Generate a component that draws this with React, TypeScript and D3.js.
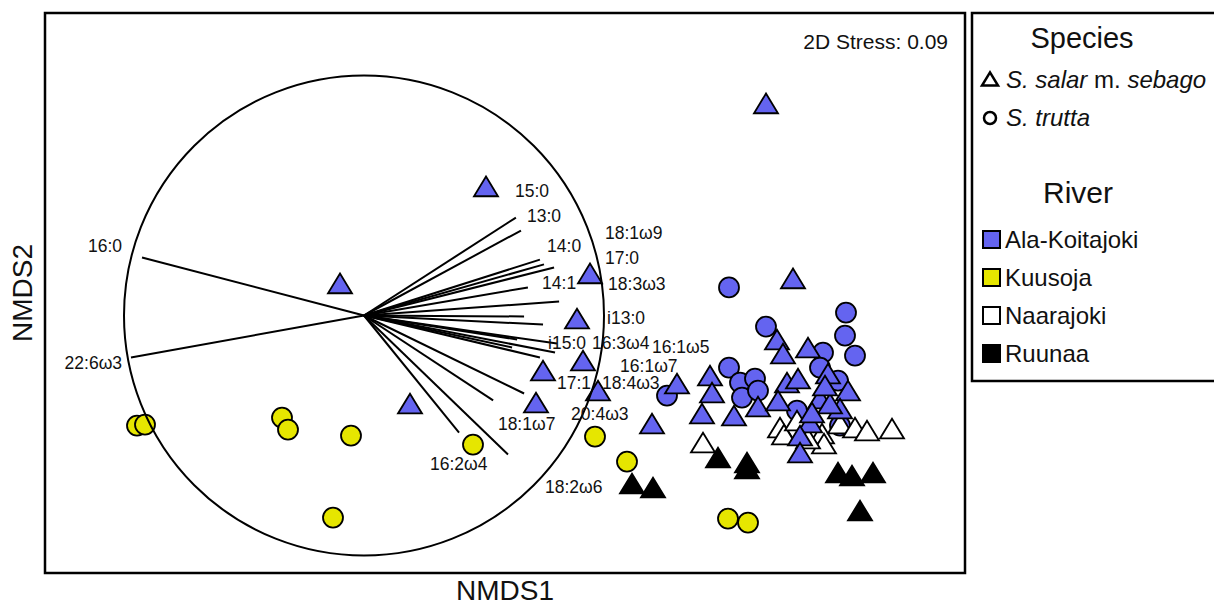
import * as d3 from 'd3';

const W = 1214;
const H = 606;

type Pt = [number, number];

// NMDS scores (NMDS1, NMDS2)
const alaTriangles: Pt[] = [
  [1.305, 0.948], [-0.095, 0.533], [-0.825, 0.048], [0.425, 0.098], [0.36, -0.128],
  [0.39, -0.338], [0.19, -0.388], [0.155, -0.548], [0.465, -0.488], [-0.475, -0.553],
  [0.735, -0.653], [0.86, -0.453], [1.44, 0.073], [1.025, -0.413], [1.035, -0.498],
  [0.985, -0.603], [1.145, -0.613], [1.265, -0.568], [1.36, -0.233], [1.39, -0.303],
  [1.515, -0.273], [1.41, -0.448], [1.465, -0.428], [1.615, -0.403], [1.715, -0.488],
  [1.675, -0.578], [1.365, -0.538], [1.575, -0.528], [1.625, -0.553], [1.525, -0.648],
  [1.475, -0.713], [1.475, -0.798], [1.535, -0.598], [1.6, -0.463],
];
const alaCircles: Pt[] = [
  [1.12, 0.028], [1.705, -0.098], [1.7, -0.213], [1.75, -0.313], [1.305, -0.168],
  [1.59, -0.298], [1.575, -0.373], [1.12, -0.373], [1.175, -0.448], [1.25, -0.428],
  [1.185, -0.523], [1.265, -0.488], [0.81, -0.513], [1.46, -0.588], [1.675, -0.663],
  [1.665, -0.438],
];
const naaraTriangles: Pt[] = [
  [0.99, -0.748], [1.375, -0.673], [1.395, -0.708], [1.46, -0.638], [1.585, -0.703],
  [1.595, -0.753], [1.675, -0.653], [1.75, -0.673], [1.81, -0.688], [1.935, -0.678],
  [1.515, -0.728],
];
const ruunaaTriangles: Pt[] = [
  [0.635, -0.953], [0.74, -0.973], [1.065, -0.823], [1.21, -0.848], [1.21, -0.878],
  [1.665, -0.898], [1.735, -0.913], [1.84, -0.898], [1.775, -1.088],
];
const kuusojaCircles: Pt[] = [
  [-1.84, -0.663], [-1.8, -0.658], [-1.115, -0.623], [-1.085, -0.683], [-0.77, -0.713],
  [-0.86, -1.123], [-0.16, -0.758], [0.45, -0.718], [0.61, -0.843], [1.115, -1.128],
  [1.215, -1.148],
];

// fatty acid vectors (correlations), with label positions in the same units
const fattyAcids = ['15:0', '13:0', '14:0', '18:1ω9', '17:0', '14:1', '18:3ω3', 'i13:0', 'i15:0', '16:3ω4',
  '16:1ω5', '16:1ω7', '17:1', '18:4ω3', '20:4ω3', '18:1ω7', '16:2ω4', '18:2ω6', '16:0', '22:6ω3'];
const vecX = [0.633, 0.654, 0.733, 0.75, 0.792, 0.683, 0.813, 0.667, 0.746, 0.804,
  0.796, 0.638, 0.617, 0.733, 0.667, 0.538, 0.396, 0.6, -0.925, -0.971];
const vecY = [0.408, 0.354, 0.233, 0.213, 0.2, 0.117, 0.058, -0.004, -0.038, -0.117,
  -0.154, -0.1, -0.133, -0.175, -0.325, -0.354, -0.488, -0.579, 0.242, -0.175];
const labX = [0.629, 0.679, 0.763, 1.004, 1.004, 0.742, 1.017, 1.013, 0.767, 0.95,
  1.2, 1.067, 0.804, 0.992, 0.863, 0.558, 0.275, 0.754, -1.008, -1.008];
const labY = [0.521, 0.417, 0.292, 0.346, 0.242, 0.138, 0.133, -0.008, -0.113, -0.113,
  -0.129, -0.208, -0.279, -0.279, -0.408, -0.45, -0.617, -0.713, 0.292, -0.196];

const circleCentre: Pt = [-0.705, -0.1125];
const circleRadius = 1.2;

const rivers = ['Ala-Koitajoki', 'Kuusoja', 'Naarajoki', 'Ruunaa'];
const riverColors = ['#6464f0', '#e6e600', '#ffffff', '#000000'];

const frame = { left: 45, right: 965, top: 13, bottom: 573 };

const x = d3.scaleLinear().domain([-2.3, 2.3]).range([frame.left, frame.right]);
const y = d3.scaleLinear().domain([-1.4, 1.4]).range([frame.bottom, frame.top]);

// upright triangle centred on its bounding box
const triangleUp: d3.SymbolType = {
  draw(ctx, size) {
    const s = Math.sqrt(size);
    const h = s * 0.82;
    ctx.moveTo(0, -h / 2);
    ctx.lineTo(s / 2, h / 2);
    ctx.lineTo(-s / 2, h / 2);
    ctx.closePath();
  },
};

const triPath = d3.symbol().type(triangleUp).size(24 * 24)() as string;
const circPath = d3.symbol().type(d3.symbolCircle).size(Math.PI * 10 * 10)() as string;
const triSmall = d3.symbol().type(triangleUp).size(16 * 16)() as string;
const circSmall = d3.symbol().type(d3.symbolCircle).size(Math.PI * 6 * 6)() as string;

const FONT = 'Liberation Sans, Arial, sans-serif';

const Marks = ({ pts, path, fill }: { pts: Pt[]; path: string; fill: string }) => (
  <g>
    {pts.map((p, i) => (
      <path
        key={i}
        d={path}
        transform={`translate(${x(p[0])},${y(p[1])})`}
        fill={fill}
        stroke='#000'
        strokeWidth={1.8}
      />
    ))}
  </g>
);

export default function App() {
  const cx = x(circleCentre[0]);
  const cy = y(circleCentre[1]);
  const rPx = x(circleRadius) - x(0);
  const vx = (v: number) => x(circleCentre[0] + v * circleRadius);
  const vy = (v: number) => y(circleCentre[1] + v * circleRadius);

  return (
    <svg
      width={W}
      height={H}
      style={{ position: 'absolute', left: 0, top: 0, background: '#fff' }}
      fontFamily={FONT}
    >
      <rect x={0} y={0} width={W} height={H} fill='#fff' />

      {/* points */}
      <Marks pts={kuusojaCircles} path={circPath} fill={riverColors[1]} />
      <Marks pts={alaCircles} path={circPath} fill={riverColors[0]} />
      <Marks pts={naaraTriangles} path={triPath} fill={riverColors[2]} />
      <Marks pts={ruunaaTriangles} path={triPath} fill={riverColors[3]} />
      <Marks pts={alaTriangles} path={triPath} fill={riverColors[0]} />

      {/* vector overlay */}
      <circle cx={cx} cy={cy} r={rPx} fill='none' stroke='#000' strokeWidth={2} />
      {fattyAcids.map((fa, i) => (
        <line key={fa} x1={cx} y1={cy} x2={vx(vecX[i])} y2={vy(vecY[i])} stroke='#000' strokeWidth={2} />
      ))}
      {fattyAcids.map((fa, i) => (
        <text
          key={fa}
          x={vx(labX[i])}
          y={vy(labY[i])}
          dy='0.35em'
          fontSize={17.5}
          fill='#111'
          textAnchor={labX[i] < 0 ? 'end' : 'start'}
        >
          {fa}
        </text>
      ))}

      <text x={frame.right - 17} y={42} dy='0.35em' fontSize={21} textAnchor='end' fill='#111'>
        2D Stress: 0.09
      </text>

      <rect
        x={frame.left}
        y={frame.top}
        width={frame.right - frame.left}
        height={frame.bottom - frame.top}
        fill='none'
        stroke='#000'
        strokeWidth={2.5}
      />

      {/* axis titles */}
      <text x={(frame.left + frame.right) / 2} y={590} dy='0.35em' fontSize={28} textAnchor='middle' fill='#111'>
        NMDS1
      </text>
      <text
        transform={`translate(22,${(frame.top + frame.bottom) / 2}) rotate(-90)`}
        dy='0.35em'
        fontSize={28}
        textAnchor='middle'
        fill='#111'
      >
        NMDS2
      </text>

      {/* legend */}
      <rect x={972} y={13} width={260} height={368} fill='#fff' stroke='#000' strokeWidth={2.5} />
      <text x={1082} y={38} dy='0.35em' fontSize={29} textAnchor='middle' fill='#111'>
        Species
      </text>
      <path d={triSmall} transform='translate(990,79)' fill='#fff' stroke='#000' strokeWidth={2.5} />
      <text x={1006} y={80} dy='0.35em' fontSize={24} fill='#111'>
        <tspan fontStyle='italic'>S. salar</tspan> m. <tspan fontStyle='italic'>sebago</tspan>
      </text>
      <path d={circSmall} transform='translate(990,118)' fill='#fff' stroke='#000' strokeWidth={2.5} />
      <text x={1006} y={118} dy='0.35em' fontSize={24} fontStyle='italic' fill='#111'>
        S. trutta
      </text>
      <text x={1078} y={192} dy='0.35em' fontSize={30} textAnchor='middle' fill='#111'>
        River
      </text>
      {rivers.map((r, i) => (
        <g key={r} transform={`translate(0,${240 + i * 38})`}>
          <rect x={983} y={-9} width={17} height={17} fill={riverColors[i]} stroke='#000' strokeWidth={2} />
          <text x={1005} y={0} dy='0.35em' fontSize={24} fill='#111'>
            {r}
          </text>
        </g>
      ))}
    </svg>
  );
}
